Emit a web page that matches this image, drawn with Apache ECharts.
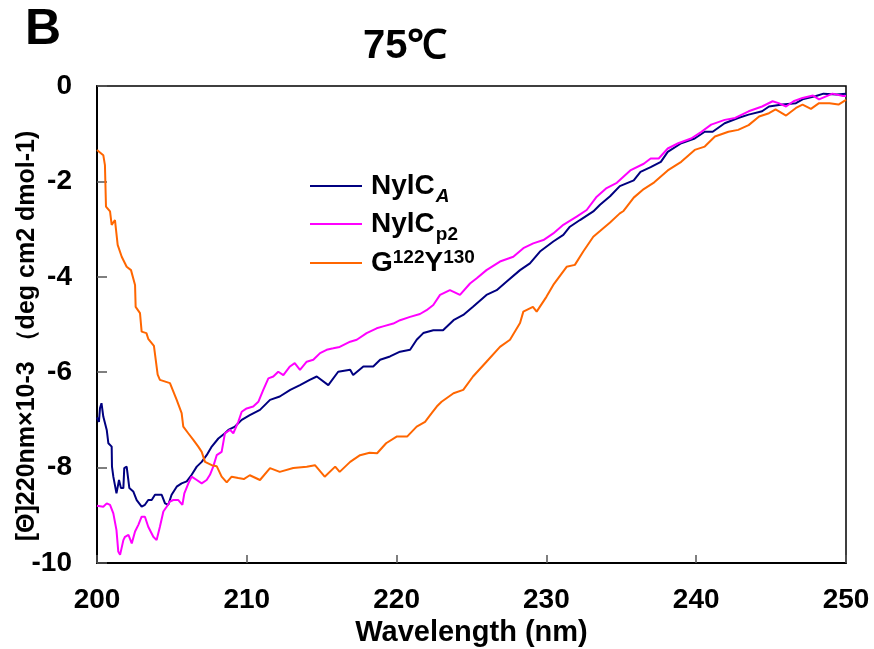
<!DOCTYPE html>
<html>
<head>
<meta charset="utf-8">
<title>75℃</title>
<script src="https://cdn.jsdelivr.net/npm/echarts@6.0.0/dist/echarts.min.js"></script>
<style>
  html, body { margin: 0; padding: 0; background: #fff; }
  #chart { width: 874px; height: 649px; }
</style>
</head>
<body>
<div id="chart"></div>
<script>
// 数据: [波长 nm, 摩尔椭圆率 ×10^-3]
var nylcA = [
  [200.0, -6.95], [200.13, -7.04], [200.2, -6.75], [200.3, -6.65], [200.42, -6.93], [200.65, -7.21],
  [200.76, -7.49], [200.98, -7.56], [201.0, -7.98], [201.09, -8.19], [201.3, -8.54], [201.47, -8.26],
  [201.6, -8.43], [201.76, -8.43], [201.82, -8.01], [201.98, -7.98], [202.1, -8.01], [202.16, -8.43],
  [202.42, -8.5], [202.65, -8.68], [202.98, -8.82], [203.2, -8.78], [203.42, -8.68], [203.65, -8.68],
  [203.87, -8.57], [204.32, -8.57], [204.54, -8.75], [204.76, -8.78], [204.98, -8.57], [205.32, -8.4],
  [205.65, -8.33], [205.99, -8.29], [206.32, -8.15], [206.66, -7.98], [206.99, -7.88], [207.32, -7.74],
  [207.66, -7.56], [208.1, -7.39], [208.54, -7.28], [208.77, -7.21], [209.21, -7.14], [209.66, -7.0],
  [210.2, -6.9], [210.88, -6.79], [211.55, -6.58], [212.2, -6.51], [212.9, -6.37], [213.55, -6.27],
  [214.2, -6.16], [214.67, -6.09], [215.44, -6.27], [216.1, -5.99], [216.9, -5.95], [217.1, -6.06],
  [217.78, -5.88], [218.44, -5.88], [218.9, -5.74], [219.56, -5.67], [220.23, -5.57], [220.9, -5.53],
  [221.34, -5.32], [221.78, -5.18], [222.45, -5.12], [223.1, -5.12], [223.8, -4.91], [224.45, -4.8],
  [225.1, -4.63], [226.0, -4.38], [226.68, -4.28], [227.35, -4.1], [228.24, -3.86], [228.9, -3.72],
  [229.57, -3.47], [230.46, -3.26], [231.13, -3.12], [231.57, -2.95], [232.24, -2.81], [233.13, -2.63],
  [233.58, -2.49], [234.25, -2.31], [234.9, -2.1], [235.83, -1.98], [236.28, -1.8], [236.96, -1.7],
  [237.64, -1.59], [238.1, -1.38], [239.0, -1.2], [239.9, -1.1], [240.57, -0.96], [241.1, -0.96],
  [241.9, -0.78], [242.8, -0.67], [243.5, -0.6], [244.4, -0.53], [244.86, -0.43], [245.75, -0.39],
  [246.66, -0.36], [247.1, -0.28], [248.0, -0.21], [248.5, -0.16], [249.37, -0.18], [250.0, -0.16]
];

var nylcP2 = [
  [200.0, -8.8], [200.13, -8.78], [200.42, -8.82], [200.65, -8.75], [200.87, -8.78], [201.09, -8.96],
  [201.3, -9.31], [201.42, -9.76], [201.54, -9.83], [201.76, -9.52], [201.87, -9.45], [202.1, -9.41],
  [202.32, -9.59], [202.54, -9.34], [202.76, -9.2], [202.98, -9.03], [203.2, -9.03], [203.42, -9.24],
  [203.76, -9.45], [203.98, -9.52], [204.2, -9.24], [204.43, -8.92], [204.65, -8.82], [204.87, -8.71],
  [205.1, -8.68], [205.43, -8.68], [205.7, -8.78], [205.83, -8.54], [206.1, -8.33], [206.32, -8.19],
  [206.66, -8.26], [206.99, -8.33], [207.32, -8.26], [207.54, -8.15], [207.76, -7.98], [207.99, -7.74],
  [208.32, -7.67], [208.54, -7.28], [208.88, -7.21], [209.1, -7.28], [209.43, -7.04], [209.66, -6.83],
  [209.99, -6.76], [210.43, -6.72], [210.77, -6.62], [211.1, -6.37], [211.44, -6.13], [211.77, -6.09],
  [212.1, -5.99], [212.44, -6.06], [212.88, -5.88], [213.2, -5.81], [213.55, -5.95], [214.0, -5.78],
  [214.44, -5.74], [214.89, -5.6], [215.33, -5.53], [215.77, -5.5], [216.2, -5.47], [216.9, -5.36],
  [217.34, -5.32], [218.0, -5.18], [218.67, -5.08], [219.1, -5.04], [219.78, -4.98], [220.23, -4.91],
  [220.9, -4.84], [221.56, -4.78], [222.0, -4.7], [222.45, -4.59], [222.9, -4.38], [223.56, -4.28],
  [224.23, -4.38], [224.9, -4.14], [225.35, -4.03], [226.0, -3.86], [226.9, -3.68], [227.79, -3.58],
  [228.46, -3.4], [229.12, -3.3], [229.8, -3.23], [230.46, -3.09], [231.13, -2.91], [232.02, -2.74],
  [232.69, -2.6], [233.36, -2.32], [234.02, -2.14], [234.7, -2.03], [235.6, -1.77], [236.5, -1.63],
  [236.96, -1.52], [237.5, -1.52], [238.1, -1.31], [238.8, -1.2], [239.66, -1.1], [240.35, -0.96],
  [241.0, -0.81], [241.9, -0.71], [242.6, -0.67], [243.5, -0.53], [244.4, -0.43], [245.1, -0.32],
  [245.5, -0.36], [246.0, -0.43], [246.5, -0.32], [247.1, -0.25], [247.8, -0.2], [248.2, -0.28],
  [249.1, -0.16], [249.8, -0.21], [250.0, -0.21]
];

var g122y130 = [
  [200.0, -1.34], [200.42, -1.45], [200.53, -1.66], [200.6, -2.53], [200.87, -2.63], [200.98, -2.91],
  [201.2, -2.81], [201.38, -3.33], [201.65, -3.58], [201.98, -3.79], [202.27, -3.86], [202.54, -4.17],
  [202.58, -4.63], [202.87, -4.76], [202.98, -5.15], [203.3, -5.18], [203.42, -5.3], [203.8, -5.45],
  [204.05, -6.05], [204.2, -6.16], [204.87, -6.23], [205.32, -6.58], [205.65, -6.86], [205.76, -7.14],
  [206.09, -7.28], [206.43, -7.42], [206.76, -7.56], [206.99, -7.67], [207.21, -7.88], [207.66, -7.95],
  [207.99, -7.97], [208.32, -8.19], [208.66, -8.31], [208.99, -8.19], [209.43, -8.22], [209.8, -8.24],
  [210.2, -8.16], [210.88, -8.26], [211.55, -8.01], [212.2, -8.09], [213.1, -8.01], [214.0, -7.98],
  [214.55, -7.95], [215.2, -8.19], [215.9, -7.98], [216.2, -8.09], [216.9, -7.88], [217.56, -7.74],
  [218.2, -7.69], [218.7, -7.7], [219.3, -7.49], [220.0, -7.35], [220.7, -7.35], [221.34, -7.14],
  [221.9, -7.04], [222.34, -6.86], [222.68, -6.72], [223.0, -6.62], [223.8, -6.44], [224.45, -6.37],
  [225.1, -6.09], [226.0, -5.78], [226.9, -5.47], [227.57, -5.32], [228.24, -4.97], [228.46, -4.73],
  [229.1, -4.63], [229.35, -4.73], [230.0, -4.42], [230.46, -4.17], [231.35, -3.79], [231.9, -3.75],
  [232.46, -3.47], [233.13, -3.16], [233.58, -3.04], [234.25, -2.86], [234.9, -2.67], [235.15, -2.62],
  [235.83, -2.34], [236.5, -2.16], [237.2, -2.02], [238.1, -1.77], [239.0, -1.59], [239.9, -1.34],
  [240.57, -1.27], [241.25, -1.06], [242.15, -0.96], [242.8, -0.92], [243.5, -0.82], [244.2, -0.64],
  [244.86, -0.57], [245.3, -0.49], [246.0, -0.62], [246.66, -0.46], [247.1, -0.39], [247.66, -0.48],
  [248.2, -0.36], [248.9, -0.36], [249.5, -0.39], [250.0, -0.29]
];

var seriesNames = ['NylC_A', 'NylC_p2', 'G122Y130'];
var seriesColors = ['#000080', '#ff00ff', '#ff6600'];
var xTicks = [200, 250, 10];   // min, max, interval
var yTicks = [-10, 0, 2];

var font = 'Liberation Sans, Arial, sans-serif';

var chart = echarts.init(document.getElementById('chart'), null, { renderer: 'canvas' });

function makeLine(name, data, color) {
  return {
    name: name,
    type: 'line',
    data: data,
    symbol: 'none',
    color: color,
    lineStyle: { width: 2, color: color },
    z: 3
  };
}

var option = {
  backgroundColor: '#fff',
  animation: false,
  textStyle: { fontFamily: font },
  title: [
    {
      text: 'B',
      left: 20,
      top: 0,
      textStyle: { fontSize: 50, fontWeight: 'bold', color: '#000', fontFamily: font }
    },
    {
      text: '75℃',
      left: 358,
      top: 22,
      textStyle: { fontSize: 40, fontWeight: 'bold', color: '#000', fontFamily: font }
    }
  ],
  legend: {
    orient: 'vertical',
    left: 305,
    top: 167,
    icon: 'rect',
    itemWidth: 52,
    itemHeight: 2,
    itemGap: 4,
    data: seriesNames,
    formatter: function (name) {
      if (name === 'NylC_A') return '{b|NylC}{subi|A}';
      if (name === 'NylC_p2') return '{b|NylC}{sub|p2}';
      return '{b|G}{sup|122}{b|Y}{sup|130}';
    },
    textStyle: {
      fontFamily: font,
      padding: [0, 0, 0, 4],
      rich: {
        b: { fontSize: 28, fontWeight: 'bold', color: '#000', fontFamily: font, height: 30, verticalAlign: 'bottom' },
        sub: { fontSize: 19, fontWeight: 'bold', color: '#000', fontFamily: font, verticalAlign: 'bottom', padding: [0, 0, -5, 1] },
        subi: { fontSize: 19, fontWeight: 'bold', fontStyle: 'italic', color: '#000', fontFamily: font, verticalAlign: 'bottom', padding: [0, 0, -5, 1] },
        sup: { fontSize: 19, fontWeight: 'bold', color: '#000', fontFamily: font, verticalAlign: 'top', padding: [0, 0, 0, 0] }
      }
    }
  },
  grid: {
    left: 97,
    right: 28,
    top: 86,
    bottom: 86,
    outerBoundsMode: 'none',
    show: true,
    borderColor: '#000',
    borderWidth: 1.5,
    backgroundColor: 'transparent'
  },
  xAxis: {
    type: 'value',
    min: xTicks[0],
    max: xTicks[1],
    interval: xTicks[2],
    name: 'Wavelength (nm)',
    nameLocation: 'middle',
    nameGap: 55,
    nameMoveOverlap: false,
    nameTextStyle: { fontSize: 29, fontWeight: 'bold', color: '#000', fontFamily: font },
    axisLine: { show: true, onZero: false, lineStyle: { color: '#000', width: 2 } },
    axisTick: { show: true, inside: true, length: 8, lineStyle: { color: '#555', width: 1.5 } },
    axisLabel: { margin: 23, fontSize: 28, fontWeight: 'bold', color: '#000', fontFamily: font },
    splitLine: { show: false }
  },
  yAxis: {
    type: 'value',
    min: yTicks[0],
    max: yTicks[1],
    interval: yTicks[2],
    name: '[Θ]220nm×10-3 （deg cm2 dmol-1)',
    nameLocation: 'middle',
    nameRotate: 90,
    nameGap: 57,
    nameMoveOverlap: false,
    nameTextStyle: { fontSize: 25, fontWeight: 'bold', color: '#000', fontFamily: font, padding: [0, 23, 0, 0] },
    axisLine: { show: true, onZero: false, lineStyle: { color: '#000', width: 2 } },
    axisTick: { show: true, inside: true, length: 10, lineStyle: { color: '#555', width: 1.5 } },
    axisLabel: { margin: 25, fontSize: 28, fontWeight: 'bold', color: '#000', fontFamily: font },
    splitLine: { show: false }
  },
  series: [
    makeLine(seriesNames[0], nylcA, seriesColors[0]),
    makeLine(seriesNames[1], nylcP2, seriesColors[1]),
    makeLine(seriesNames[2], g122y130, seriesColors[2])
  ]
};

chart.setOption(option);
</script>
</body>
</html>
